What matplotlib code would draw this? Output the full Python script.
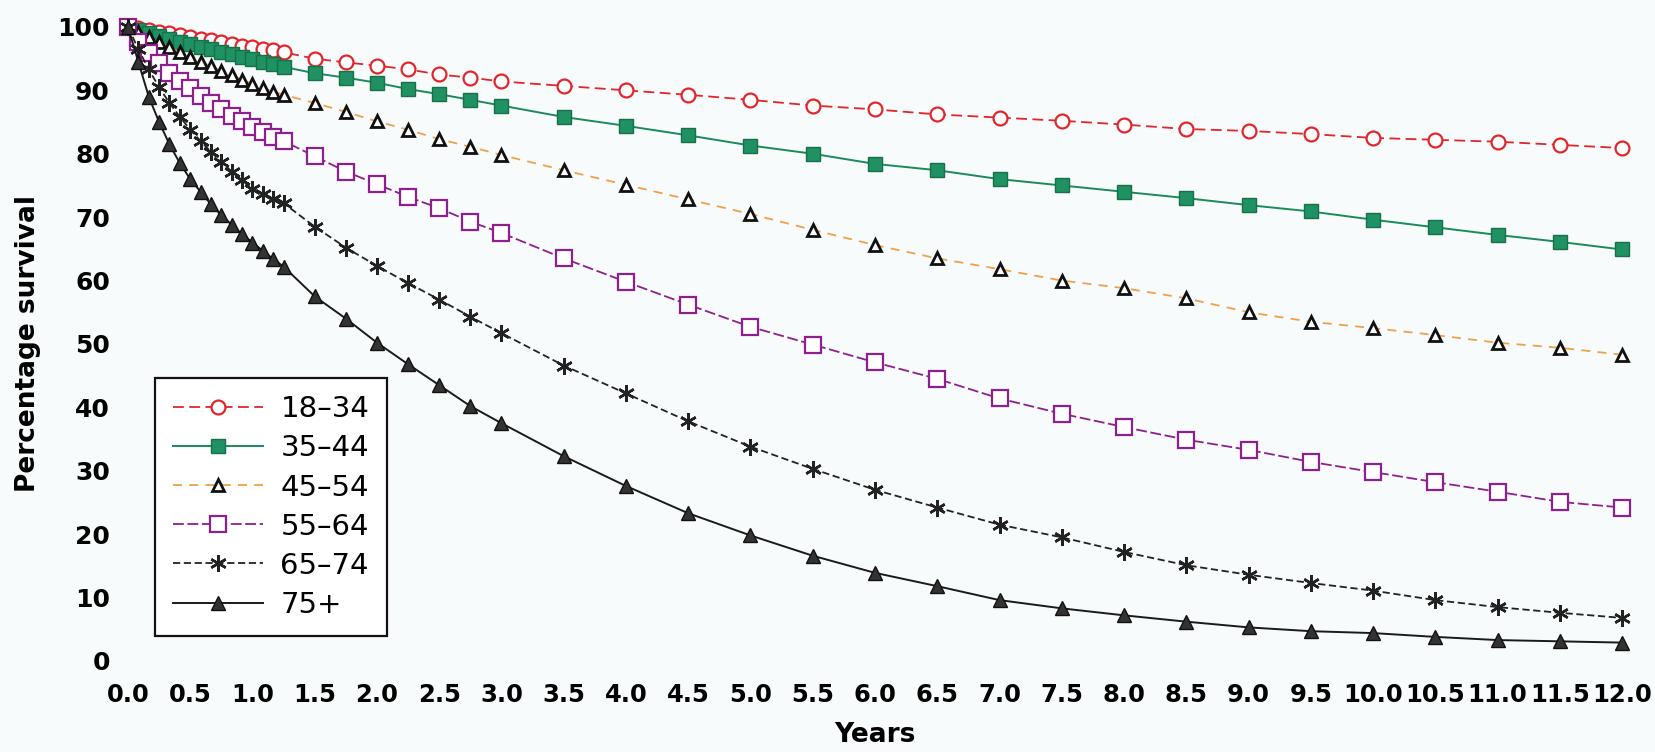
import matplotlib
matplotlib.use("Agg")
import matplotlib.pyplot as plt

matplotlib.rcParams['font.family'] = ['DejaVu Sans']

# time points in years: monthly to 1.25, quarterly to 3.0, then half-yearly
years = [0, 0.083, 0.167, 0.25, 0.333, 0.417, 0.5, 0.583, 0.667, 0.75, 0.833, 0.917,
         1.0, 1.083, 1.167, 1.25, 1.5, 1.75, 2.0, 2.25, 2.5, 2.75, 3.0,
         3.5, 4.0, 4.5, 5.0, 5.5, 6.0, 6.5, 7.0, 7.5, 8.0, 8.5, 9.0, 9.5,
         10.0, 10.5, 11.0, 11.5, 12.0]

age_18_34 = [100, 99.8, 99.5, 99.2, 99.0, 98.7, 98.4, 98.1, 97.9, 97.6, 97.3, 97.0,
             96.8, 96.5, 96.3, 96.0, 95.0, 94.4, 93.9, 93.3, 92.5, 92.0, 91.4,
             90.7, 90.0, 89.3, 88.5, 87.6, 87.0, 86.2, 85.7, 85.2, 84.6, 83.9, 83.6, 83.1,
             82.5, 82.2, 81.9, 81.4, 80.9]
age_35_44 = [100, 99.5, 99.0, 98.6, 98.1, 97.7, 97.3, 96.9, 96.5, 96.1, 95.7, 95.3,
             94.9, 94.5, 94.1, 93.7, 92.7, 92.0, 91.2, 90.2, 89.4, 88.5, 87.6,
             85.8, 84.4, 82.9, 81.3, 80.0, 78.4, 77.4, 76.0, 75.0, 74.0, 73.0, 71.9, 70.9,
             69.6, 68.4, 67.2, 66.1, 64.9]
age_45_54 = [100, 99.2, 98.4, 97.6, 96.8, 96.0, 95.2, 94.5, 93.8, 93.1, 92.4, 91.7,
             91.0, 90.4, 89.8, 89.3, 88.0, 86.6, 85.1, 83.8, 82.3, 81.1, 79.8,
             77.4, 75.1, 72.8, 70.5, 68.0, 65.6, 63.5, 61.8, 60.0, 58.8, 57.2, 55.0, 53.5,
             52.5, 51.4, 50.2, 49.4, 48.3]
age_55_64 = [100, 97.6, 95.9, 94.3, 92.8, 91.5, 90.3, 89.1, 88.0, 87.0, 86.0, 85.1,
             84.2, 83.4, 82.7, 82.0, 79.6, 77.2, 75.2, 73.2, 71.4, 69.3, 67.5,
             63.5, 59.8, 56.2, 52.7, 49.9, 47.1, 44.5, 41.4, 39.0, 36.9, 34.9, 33.3, 31.4,
             29.8, 28.2, 26.7, 25.1, 24.2]
age_65_74 = [100, 96.5, 93.3, 90.5, 88.0, 85.8, 83.8, 82.0, 80.3, 78.7, 77.2, 75.8,
             74.5, 73.7, 72.9, 72.2, 68.5, 65.2, 62.3, 59.6, 57.0, 54.3, 51.7,
             46.6, 42.2, 37.8, 33.8, 30.3, 27.0, 24.2, 21.5, 19.5, 17.2, 15.1, 13.6, 12.3,
             11.1, 9.6, 8.5, 7.6, 6.8]
age_75_plus = [100, 94.5, 89.0, 85.0, 81.5, 78.5, 76.0, 74.0, 72.0, 70.3, 68.8, 67.3,
               66.0, 64.7, 63.4, 62.2, 57.5, 54.0, 50.2, 46.8, 43.5, 40.2, 37.5,
               32.3, 27.6, 23.3, 19.8, 16.6, 13.9, 11.8, 9.6, 8.3, 7.2, 6.2, 5.3, 4.7,
               4.4, 3.8, 3.3, 3.1, 2.9]

x_ticks = [0.0, 0.5, 1.0, 1.5, 2.0, 2.5, 3.0, 3.5, 4.0, 4.5, 5.0, 5.5, 6.0, 6.5, 7.0,
           7.5, 8.0, 8.5, 9.0, 9.5, 10.0, 10.5, 11.0, 11.5, 12.0]
y_ticks = [0, 10, 20, 30, 40, 50, 60, 70, 80, 90, 100]

bg = '#f8fbfb'
fig = plt.figure(figsize=(16.55, 7.52), dpi=100, facecolor=bg)
ax = fig.add_axes([0.0698, 0.1126, 0.9178, 0.86])
ax.set_facecolor(bg)

ax.plot(years, age_18_34, color='#e0262b', lw=1.3, dashes=(6, 3),
        marker='o', ms=10, mfc='white', mec='#e0262b', mew=1.6, label='18–34', clip_on=False)
ax.plot(years, age_35_44, color='#1a8a5c', lw=1.4,
        marker='s', ms=10, mfc='#1f9163', mec='#16704a', mew=1.0, label='35–44', clip_on=False)
ax.plot(years, age_45_54, color='#f0a048', lw=1.3, dashes=(5, 4),
        marker='^', ms=9, mfc='white', mec='#111111', mew=2.0, label='45–54', clip_on=False)
ax.plot(years, age_55_64, color='#8e1f8e', lw=1.3, dashes=(6, 2),
        marker='s', ms=11, mfc='white', mec='#8e1f8e', mew=1.6, label='55–64', clip_on=False)
ax.plot(years, age_65_74, color='#222222', lw=1.3, dashes=(4, 2),
        marker=(6, 2, 0), ms=12, mec='#222222', mew=1.8, label='65–74', clip_on=False)
ax.plot(years, age_75_plus, color='#1a1a1a', lw=1.4,
        marker='^', ms=10, mfc='#333333', mec='#111111', mew=1.0, label='75+', clip_on=False)

ax.set_xlim(-0.1, 12.1)
ax.set_ylim(-1, 101)
ax.set_xticks(x_ticks)
ax.set_xticklabels([f'{t:.1f}' for t in x_ticks])
ax.set_yticks(y_ticks)
for side in ['top', 'right', 'left', 'bottom']:
    ax.spines[side].set_visible(False)
ax.tick_params(axis='both', length=0)
ax.tick_params(axis='x', pad=11, labelsize=17.5)
ax.tick_params(axis='y', pad=4, labelsize=18)
for lbl in ax.get_xticklabels() + ax.get_yticklabels():
    lbl.set_fontweight('bold')

ax.set_xlabel('Years', fontsize=19, fontweight='bold', labelpad=11)
ax.set_ylabel('Percentage survival', fontsize=19, fontweight='bold', labelpad=12)

leg = ax.legend(loc='lower left', bbox_to_anchor=(0.026, 0.048), borderaxespad=0,
                fontsize=21, frameon=True, fancybox=False, edgecolor='#111111',
                facecolor='white', framealpha=1, handlelength=3.1, handletextpad=0.6,
                labelspacing=0.38, borderpad=0.6)
leg.get_frame().set_linewidth(1.6)

fig.savefig('out.png', dpi=100, facecolor=bg)
